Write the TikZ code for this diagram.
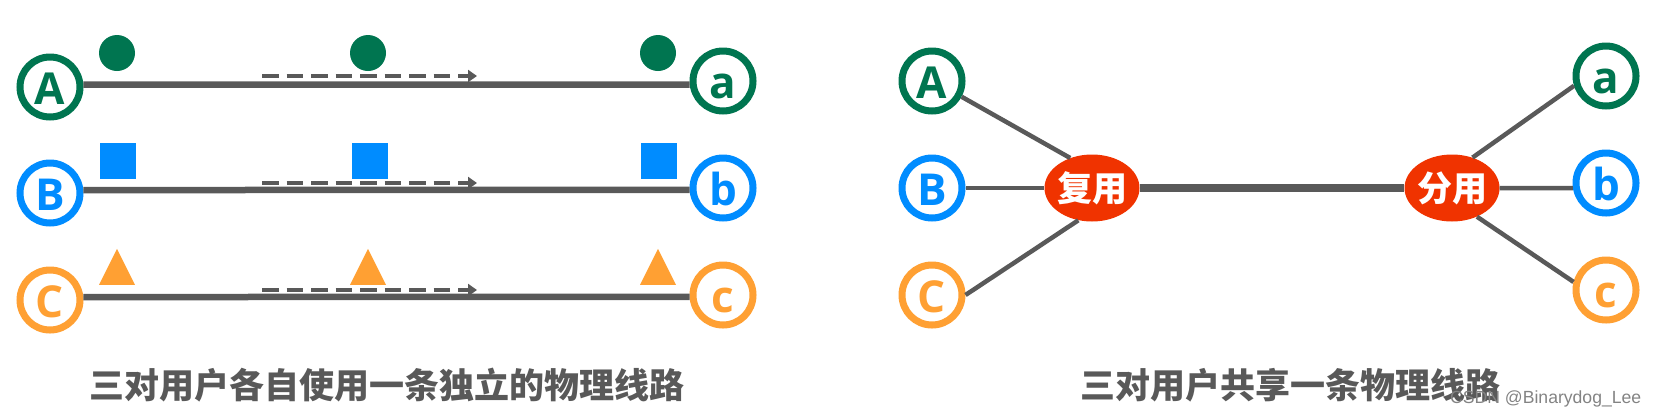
\documentclass[tikz,border=0pt]{standalone}
\usepackage{fontspec}
\setmainfont{Open Sans}
\newfontfamily\cjk{Noto Sans CJK SC}
\newfontfamily\markfont{Liberation Sans}
\usetikzlibrary{arrows.meta,shapes.geometric}
\definecolor{usergreen}{HTML}{007550}
\definecolor{userblue}{HTML}{008CFF}
\definecolor{userorange}{HTML}{FFA033}
\definecolor{muxred}{HTML}{F03300}
\definecolor{linegray}{HTML}{595959}

\begin{document}
\begin{tikzpicture}[
  x = 1pt, y = -1pt,
  user/.style = {circle, draw, line width = 7pt, fill = white, minimum size = 60pt, inner sep = 0pt,
    font = \fontsize{44}{44}\selectfont\bfseries, text height = 35pt, text depth = 0pt},
  dotmark/.style = {circle, fill = usergreen, minimum size = 36pt, inner sep = 0pt},
  squaremark/.style = {rectangle, fill = userblue, minimum size = 36pt, inner sep = 0pt},
  trianglemark/.style = {isosceles triangle, isosceles triangle stretches, shape border rotate = 90,
    fill = userorange, minimum width = 36pt, minimum height = 36pt, inner sep = 0pt, anchor = lower side},
  wire/.style = {draw = linegray, line width = 6.5pt},
  branch/.style = {draw = linegray, line width = 4.5pt},
  flow/.style = {draw = linegray, line width = 4.5pt, dash pattern = on 16.5pt off 8pt,
    -{Triangle[length = 9pt, width = 12pt]}},
  muxnode/.style = {ellipse, fill = muxred, text = white, minimum width = 95pt, minimum height = 67pt,
    inner sep = -8pt, font = \fontsize{35}{35}\selectfont\cjk\bfseries},
  caption/.style = {text = linegray, inner sep = 0pt, font = \fontsize{35}{35}\selectfont\cjk\bfseries},
  ]
  \useasboundingbox (0,0) rectangle (1656,416);

  \node[user, draw = usergreen, text = usergreen] (srcA) at (50,87) {A};
  \node[user, draw = userblue, text = userblue] (srcB) at (50,193) {B};
  \node[user, draw = userorange, text = userorange] (srcC) at (50,300) {C};
  \node[user, draw = usergreen, text = usergreen] (dstA) at (723,81) {a};
  \node[user, draw = userblue, text = userblue] (dstB) at (723,188) {b};
  \node[user, draw = userorange, text = userorange] (dstC) at (723,295) {c};

  \draw[wire] (srcA.4) -- (dstA.186);
  \draw[wire] (srcB.5) -- (dstB.183);
  \draw[wire] (srcC.5) -- (dstC.183);

  \node[dotmark] (dotA) at (117,53) {};
  \node[dotmark] (dotB) at (368,53) {};
  \node[dotmark] (dotC) at (658,53) {};
  \node[squaremark] (squareA) at (118,161) {};
  \node[squaremark] (squareB) at (370,161) {};
  \node[squaremark] (squareC) at (659,161) {};
  \node[trianglemark] (triangleA) at (117,285) {};
  \node[trianglemark] (triangleB) at (368,285) {};
  \node[trianglemark] (triangleC) at (658,285) {};

  \coordinate (flowAs) at (262,76);
  \coordinate (flowAe) at (477,76);
  \coordinate (flowBs) at (262,183);
  \coordinate (flowBe) at (477,183);
  \coordinate (flowCs) at (262,290);
  \coordinate (flowCe) at (477,290);
  \draw[flow] (flowAs) -- (flowAe);
  \draw[flow] (flowBs) -- (flowBe);
  \draw[flow] (flowCs) -- (flowCe);

  \node[caption] (captionL) at (387,385) {三对用户各自使用一条独立的物理线路};

  \node[user, draw = usergreen, text = usergreen] (leftA) at (932,81) {A};
  \node[user, draw = userblue, text = userblue] (leftB) at (932,188) {B};
  \node[user, draw = userorange, text = userorange] (leftC) at (932,295) {C};
  \node[user, draw = usergreen, text = usergreen] (rightA) at (1606,76) {a};
  \node[user, draw = userblue, text = userblue] (rightB) at (1606,183) {b};
  \node[user, draw = userorange, text = userorange] (rightC) at (1606,290) {c};

  \node[muxnode] (mux) at (1092,188) {复用};
  \node[muxnode] (demux) at (1452,188) {分用};

  \draw[branch] (leftA.-28) -- (mux.126);
  \draw[branch] (leftB.east) -- (mux.west);
  \draw[branch] (leftC.east) -- (mux.247);
  \draw[branch] (rightA.197) -- (demux.56);
  \draw[branch] (rightB.189) -- (demux.east);
  \draw[branch] (rightC.166) -- (demux.-49);
  \draw[draw = linegray, line width = 8pt] (mux.east) -- (demux.west);

  \node[caption] (captionR) at (1290,385) {三对用户共享一条物理线路};
  \node[text = linegray!75, inner sep = 0pt, anchor = west, font = \fontsize{17.6}{18}\selectfont\markfont] (mark) at (1450,399) {CSDN @Binarydog\_Lee};
\end{tikzpicture}
\end{document}
